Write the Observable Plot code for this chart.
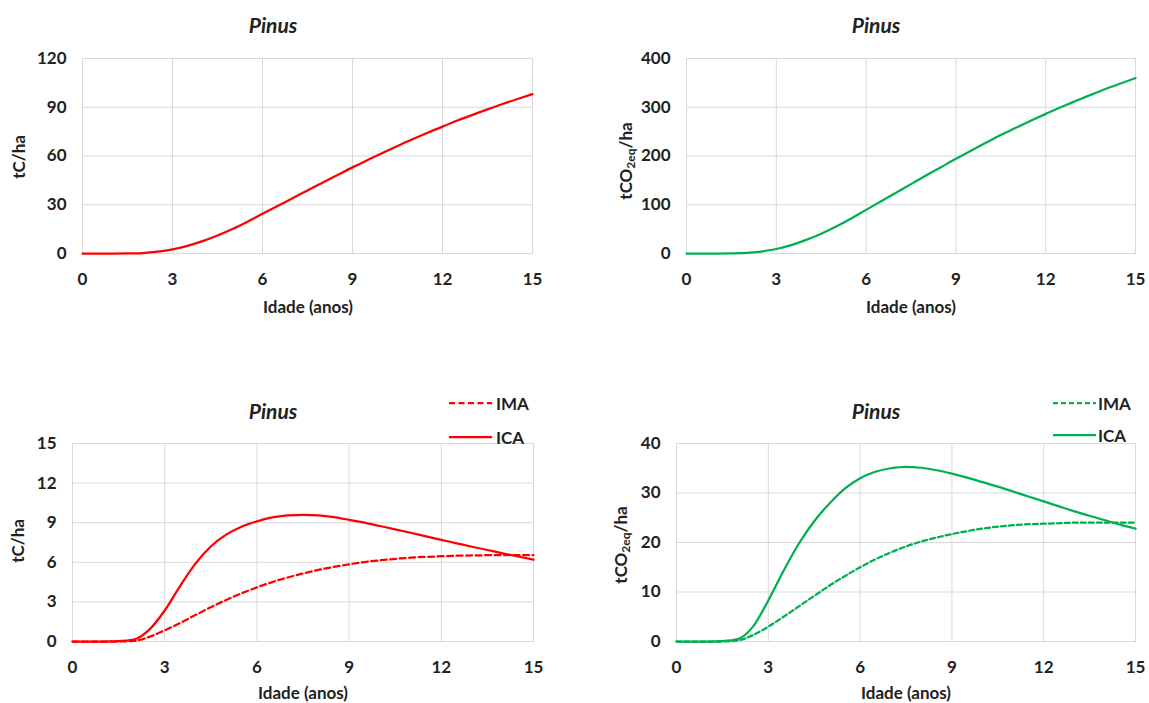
<!DOCTYPE html>
<html><head><meta charset="utf-8">
<script src="https://cdn.jsdelivr.net/npm/d3@7"></script>
<script src="https://cdn.jsdelivr.net/npm/@observablehq/plot@0.6"></script>
<style>
body{margin:0;background:#fff;font-family:Lato,"Open Sans",sans-serif;}
#page{position:relative;width:1149px;height:703px;overflow:hidden;background:#fff;}
.panel{position:absolute;}
.t{position:absolute;white-space:nowrap;color:#222;font-weight:bold;font-size:17px;line-height:1;}
.title{font-style:italic;font-size:21px;transform:translate(-50%,-50%);}
.xl{transform:translate(-50%,-50%);}
.yl{transform:translate(-50%,-50%) rotate(-90deg);}
.lg{transform:translate(0,-50%);}
.yl sub{font-size:12px;vertical-align:-3px;line-height:0;}
svg.sw{position:absolute;overflow:visible;}
</style></head><body><div id="page"></div>
<script>
// ---- data ----
const ages = [0,0.5,1,1.5,2,2.5,3,3.5,4,4.5,5,5.5,6,6.5,7,7.5,8,8.5,9,9.5,10,10.5,11,11.5,12,12.5,13,13.5,14,14.5,15];
const stockC   = [0,0,0,0.05,0.3,1.1,2.5,4.7,7.6,11.1,15.1,19.6,24.4,29.2,34.0,38.8,43.6,48.3,53.0,57.5,61.9,66.2,70.3,74.3,78.1,81.8,85.3,88.7,92.0,95.1,98.1];
const stockCO2 = [0,0,0,0.2,1.1,4.0,9.2,17.2,27.9,40.7,55.4,71.9,89.5,107.0,124.7,142.3,159.9,177.1,194.3,210.8,227.0,243.0,257.8,272.4,286.4,300.0,312.8,325.3,337.4,348.7,359.7];
const icaC  = [0,0,0,0.02,0.15,0.9,2.35,4.2,5.9,7.2,8.1,8.7,9.1,9.4,9.55,9.6,9.55,9.42,9.22,9.0,8.75,8.5,8.24,7.97,7.7,7.44,7.18,6.93,6.68,6.44,6.2];
const imaC  = [0,0,0,0,0.04,0.35,0.85,1.4,2.0,2.6,3.15,3.65,4.1,4.5,4.85,5.15,5.42,5.65,5.85,6.02,6.15,6.26,6.35,6.41,6.46,6.5,6.52,6.54,6.55,6.55,6.55];
const icaCO2 = [0,0,0,0.1,0.5,3.0,8.3,14.3,19.8,24.3,27.9,30.9,33.0,34.3,35.0,35.3,35.1,34.6,33.9,33.1,32.2,31.3,30.3,29.3,28.3,27.3,26.3,25.4,24.5,23.6,22.8];
const imaCO2 = [0,0,0,0,0.2,1.3,3.0,5.0,7.1,9.2,11.3,13.2,15.0,16.6,18.0,19.2,20.2,21.0,21.7,22.3,22.8,23.2,23.5,23.7,23.8,23.9,24.0,24.0,24.0,24.0,24.0];
const xTicks = [0,3,6,9,12,15];
const yTicksC = [0,30,60,90,120];
const yTicksCO2 = [0,100,200,300,400];
const yTicksIncC = [0,3,6,9,12,15];
const yTicksIncCO2 = [0,10,20,30,40];
const titleText = "Pinus";
const xLabelText = "Idade (anos)";
const seriesNames = ["IMA","ICA"];
const RED = "#ff0000", GREEN = "#00b050";

const page = document.getElementById("page");
function addText(cls, html, x, y){
  const d = document.createElement("div");
  d.className = "t " + cls; d.innerHTML = html;
  d.style.left = x + "px"; d.style.top = y + "px";
  page.appendChild(d);
}
function addLegendLine(x1, x2, y, color, dash){
  const ns = "http://www.w3.org/2000/svg";
  const s = document.createElementNS(ns, "svg");
  s.setAttribute("class","sw");
  s.setAttribute("width", x2 - x1); s.setAttribute("height", 4);
  s.style.left = x1 + "px"; s.style.top = (y - 2) + "px";
  const l = document.createElementNS(ns, "line");
  l.setAttribute("x1",0); l.setAttribute("x2",x2-x1); l.setAttribute("y1",2); l.setAttribute("y2",2);
  l.setAttribute("stroke", color); l.setAttribute("stroke-width", 2.25);
  if (dash) l.setAttribute("stroke-dasharray", dash);
  s.appendChild(l); page.appendChild(s);
}

function panel(o){
  const marks = [
    Plot.gridX(xTicks, {stroke:"#d9d9d9", strokeOpacity:1, strokeWidth:1}),
    Plot.gridY(o.yTicks, {stroke:"#d9d9d9", strokeOpacity:1, strokeWidth:1}),
    Plot.frame({stroke:"#d9d9d9"})
  ];
  for (const s of o.series){
    const rows = ages.map((a,i)=>({age:a, v:s.values[i]}));
    marks.push(Plot.line(rows, {x:"age", y:"v", stroke:s.color, strokeWidth:2.25,
      strokeDasharray: s.dash || null, curve:"monotone-x"}));
  }
  const chart = Plot.plot({
    width:o.width, height:o.height,
    marginLeft:o.ml, marginRight:o.mr, marginTop:o.mt, marginBottom:o.mb,
    x:{domain:[0,15], ticks:xTicks, tickSize:0, tickPadding:19, label:null},
    y:{domain:[o.yTicks[0], o.yTicks[o.yTicks.length-1]], ticks:o.yTicks, tickSize:0, tickPadding:16, label:null},
    style:{fontFamily:"Lato, 'Open Sans', sans-serif", fontSize:"17px", fontWeight:"bold", color:"#222", background:"transparent", overflow:"visible"},
    marks
  });
  chart.classList.add("panel");
  chart.style.left = o.left + "px"; chart.style.top = o.top + "px";
  chart.style.position = "absolute";
  page.appendChild(chart);
}

// Top-left
panel({left:0, top:40, width:560, height:260, ml:82, mr:28, mt:18, mb:47,
  yTicks:yTicksC, series:[{values:stockC, color:RED}]});
// Top-right
panel({left:580, top:40, width:569, height:260, ml:106, mr:14, mt:18, mb:47,
  yTicks:yTicksCO2, series:[{values:stockCO2, color:GREEN}]});
// Bottom-left
panel({left:0, top:425, width:560, height:260, ml:72, mr:27, mt:18, mb:44,
  yTicks:yTicksIncC, series:[{values:imaC, color:RED, dash:"6,3.5"},{values:icaC, color:RED}]});
// Bottom-right
panel({left:580, top:425, width:569, height:260, ml:96, mr:14, mt:18, mb:44,
  yTicks:yTicksIncCO2, series:[{values:imaCO2, color:GREEN, dash:"5,3"},{values:icaCO2, color:GREEN}]});

// titles
addText("title", titleText, 273, 24);
addText("title", titleText, 876, 24);
addText("title", titleText, 273, 410);
addText("title", titleText, 876, 410);
// x labels
addText("xl", xLabelText, 308, 306);
addText("xl", xLabelText, 911, 306);
addText("xl", xLabelText, 303, 692);
addText("xl", xLabelText, 906, 692);
// y labels
addText("yl", "tC/ha", 18, 157);
addText("yl", "tCO<sub>2eq</sub>/ha", 625, 161);
addText("yl", "tC/ha", 17, 541);
addText("yl", "tCO<sub>2eq</sub>/ha", 620, 545);
// legends
addLegendLine(449, 492, 403, RED, "6,3.5");
addText("lg", seriesNames[0], 496, 403);
addLegendLine(449, 492, 437, RED, null);
addText("lg", seriesNames[1], 496, 437);
addLegendLine(1053, 1096, 403, GREEN, "5,3");
addText("lg", seriesNames[0], 1098, 403);
addLegendLine(1053, 1096, 435, GREEN, null);
addText("lg", seriesNames[1], 1098, 435);
</script></body></html>
